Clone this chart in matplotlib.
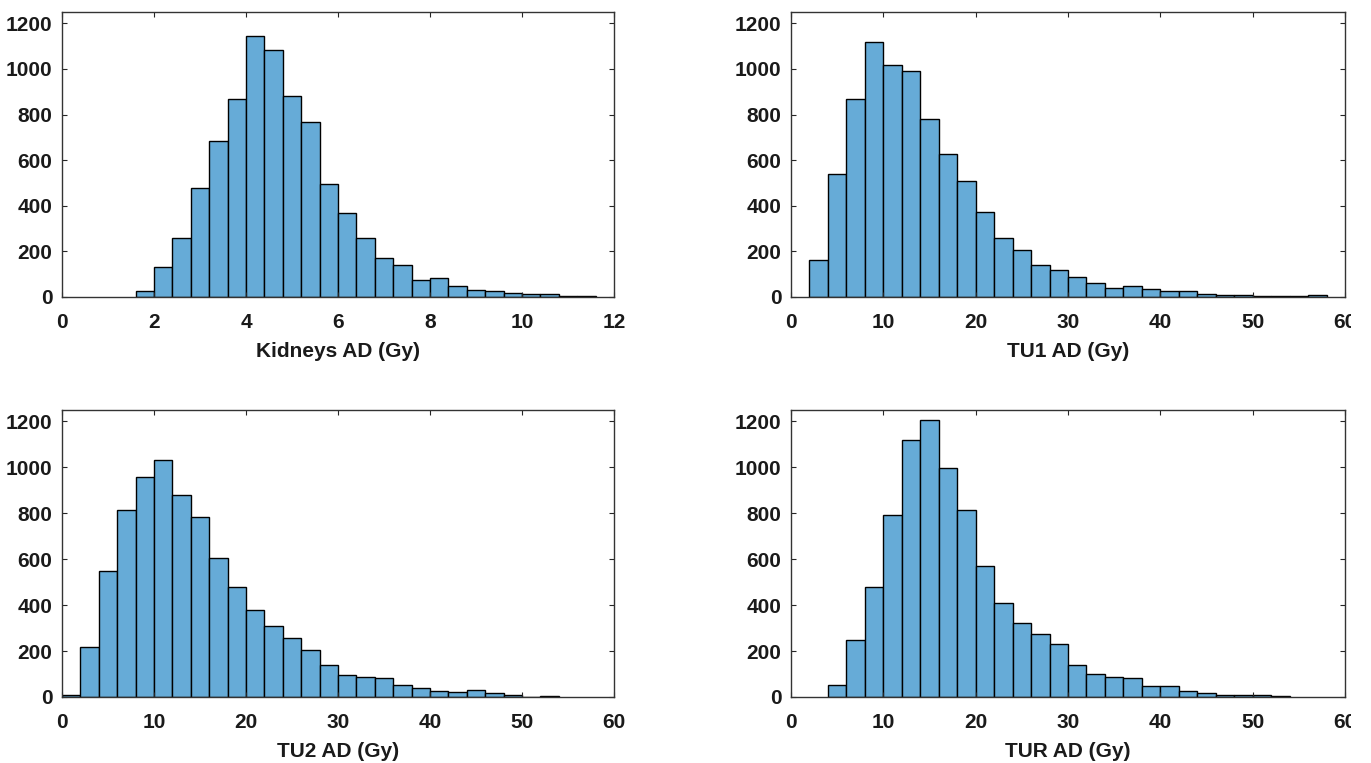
import matplotlib
matplotlib.use('Agg')

import numpy as np
import matplotlib.pyplot as plt
from matplotlib.patches import Rectangle

# Histogram counts (bin start, bin width, counts)
kidneys_start, kidneys_width = 1.6, 0.4
kidneys_counts = [25, 133, 260, 478, 683, 869, 1146, 1083, 880, 767, 496, 369, 258,
                  171, 139, 76, 83, 50, 29, 28, 18, 13, 13, 4, 4]

tu1_start, tu1_width = 2, 2
tu1_counts = [163, 541, 867, 1118, 1017, 990, 782, 626, 509, 375, 258, 205, 141, 120,
              88, 60, 38, 50, 34, 28, 25, 15, 7, 7, 3, 3, 3, 9]

tu2_start, tu2_width = 0, 2
tu2_counts = [10, 216, 550, 815, 959, 1034, 880, 783, 607, 480, 380, 310, 257, 203,
              140, 97, 89, 82, 51, 39, 26, 20, 29, 16, 10, 0, 3]

tur_start, tur_width = 4, 2
tur_counts = [53, 247, 477, 791, 1120, 1205, 999, 815, 571, 410, 323, 274, 232, 139,
              101, 89, 83, 50, 50, 25, 19, 10, 10, 9, 3]

xlabels = ['Kidneys AD (Gy)', 'TU1 AD (Gy)', 'TU2 AD (Gy)', 'TUR AD (Gy)']
xlims = [12, 60, 60, 60]
xsteps = [2, 10, 10, 10]
yticks = [0, 200, 400, 600, 800, 1000, 1200]

bar_color = '#66abd7'
ink = '#262626'

plt.rcParams['font.family'] = 'Liberation Sans'
plt.rcParams['font.weight'] = 'bold'

fig = plt.figure(figsize=(13.71, 7.63), dpi=100)

# axes positions in pixels: left, bottom(from top), width, height
W, H = 1371, 763
boxes = [(62, 297, 552, 285), (791, 297, 554, 285),
         (62, 697, 552, 287), (791, 697, 554, 287)]

datasets = [(kidneys_start, kidneys_width, kidneys_counts),
            (tu1_start, tu1_width, tu1_counts),
            (tu2_start, tu2_width, tu2_counts),
            (tur_start, tur_width, tur_counts)]

for i, (start, width, counts) in enumerate(datasets):
  l, b, w, h = boxes[i]
  ax = fig.add_axes([l / W, (H - b) / H, w / W, h / H])
  lefts = start + width * np.arange(len(counts))
  ax.bar(lefts, counts, width=width, align='edge', color=bar_color,
         edgecolor='black', linewidth=1.0)
  ax.set_xlim(0, xlims[i])
  ax.set_ylim(0, 1250)
  ax.set_xticks(np.arange(0, xlims[i] + 1, xsteps[i]))
  ax.set_yticks(yticks)
  ax.tick_params(direction='in', top=True, right=True, length=3.5, width=0.8,
                 labelsize=15, colors=ink, labelcolor='#1a1a1a')
  ax.tick_params(axis='x', pad=11.5)
  ax.tick_params(axis='y', pad=7)
  for s in ax.spines.values():
    s.set_color('#333333')
    s.set_linewidth(1.0)
  ax.set_xlabel(xlabels[i], fontsize=15, fontweight='bold', color='#1a1a1a', labelpad=7)

# the source picture is cropped just past the right-hand "60" labels
fig.patches.append(Rectangle((1351 / W, 0), 1, 1, transform=fig.transFigure,
                             facecolor='white', edgecolor='none', zorder=10))

fig.savefig('out.png', dpi=100)
